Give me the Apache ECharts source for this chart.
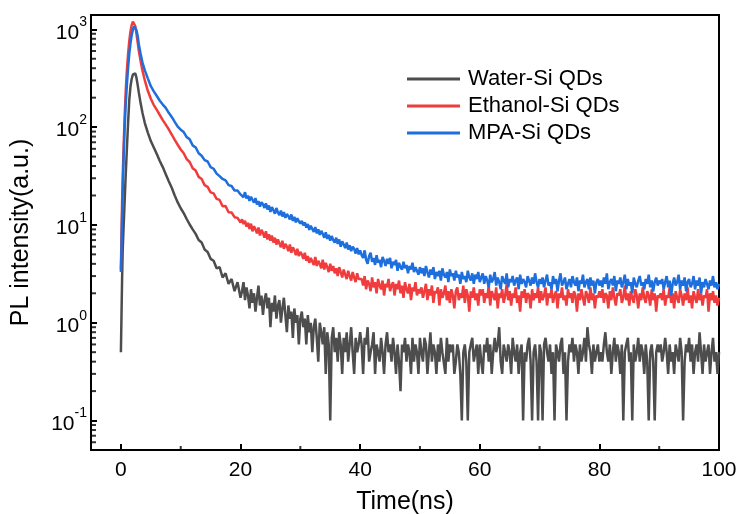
<!DOCTYPE html>
<html>
<head>
<meta charset="utf-8">
<script src="https://cdn.jsdelivr.net/npm/echarts@6/dist/echarts.min.js"></script>
<style>
html,body{margin:0;padding:0;background:#fff;}
#chart{width:741px;height:514px;}
</style>
</head>
<body>
<div id="chart"></div>
<script>
// ---- data ----
var seriesNames = ['Water-Si QDs', 'Ethanol-Si QDs', 'MPA-Si QDs'];

var times = [0,0.1,0.2,0.3,0.4,0.6,0.8,1,1.2,1.4,1.6,1.8,2,2.2,2.4,2.6,2.8,3,3.3,3.6,4,4.5,5,
5.5,6,6.5,7,7.5,8,8.5,9,9.5,10,
10.5,11,11.5,12,12.5,13,13.5,14,14.5,15,15.5,16,16.5,17,17.5,18,18.5,19,19.5,20,
20.25,20.5,20.75,21,21.25,21.5,21.75,22,22.25,22.5,22.75,23,23.25,23.5,23.75,24,24.25,24.5,24.75,25,
25.25,25.5,25.75,26,26.25,26.5,26.75,27,27.25,27.5,27.75,28,28.25,28.5,28.75,29,29.25,29.5,29.75,30,
30.25,30.5,30.75,31,31.25,31.5,31.75,32,32.25,32.5,32.75,33,33.25,33.5,33.75,34,34.25,34.5,34.75,35,
35.25,35.5,35.75,36,36.25,36.5,36.75,37,37.25,37.5,37.75,38,38.25,38.5,38.75,39,39.25,39.5,39.75,40,
40.25,40.5,40.75,41,41.25,41.5,41.75,42,42.25,42.5,42.75,43,43.25,43.5,43.75,44,44.25,44.5,44.75,45,
45.25,45.5,45.75,46,46.25,46.5,46.75,47,47.25,47.5,47.75,48,48.25,48.5,48.75,49,49.25,49.5,49.75,50,
50.25,50.5,50.75,51,51.25,51.5,51.75,52,52.25,52.5,52.75,53,53.25,53.5,53.75,54,54.25,54.5,54.75,55,
55.25,55.5,55.75,56,56.25,56.5,56.75,57,57.25,57.5,57.75,58,58.25,58.5,58.75,59,59.25,59.5,59.75,60,
60.25,60.5,60.75,61,61.25,61.5,61.75,62,62.25,62.5,62.75,63,63.25,63.5,63.75,64,64.25,64.5,64.75,65,
65.25,65.5,65.75,66,66.25,66.5,66.75,67,67.25,67.5,67.75,68,68.25,68.5,68.75,69,69.25,69.5,69.75,70,
70.25,70.5,70.75,71,71.25,71.5,71.75,72,72.25,72.5,72.75,73,73.25,73.5,73.75,74,74.25,74.5,74.75,75,
75.25,75.5,75.75,76,76.25,76.5,76.75,77,77.25,77.5,77.75,78,78.25,78.5,78.75,79,79.25,79.5,79.75,80,
80.25,80.5,80.75,81,81.25,81.5,81.75,82,82.25,82.5,82.75,83,83.25,83.5,83.75,84,84.25,84.5,84.75,85,
85.25,85.5,85.75,86,86.25,86.5,86.75,87,87.25,87.5,87.75,88,88.25,88.5,88.75,89,89.25,89.5,89.75,90,
90.25,90.5,90.75,91,91.25,91.5,91.75,92,92.25,92.5,92.75,93,93.25,93.5,93.75,94,94.25,94.5,94.75,95,
95.25,95.5,95.75,96,96.25,96.5,96.75,97,97.25,97.5,97.75,98,98.25,98.5,98.75,99,99.25,99.5,99.75,100];

var water = [0.5,1.2,2.8,5.5,8,16,32,60,110,190,260,310,345,360,355,320,270,225,175,140,110,88,72,
62,53,45,39,33,28,24,20,17,14.8,
13.2,11.5,10.1,9.0,8.1,7.0,6.6,5.6,5.3,4.5,4.3,3.6,3.7,2.9,3.2,2.5,2.8,2.1,2.6,1.8,
2.1,2.6,1.7,2.3,1.9,1.4,2.2,1.6,2.0,1.3,1.8,2.4,1.5,1.9,1.2,1.7,2.0,1.4,1.8,0.9,
1.6,1.3,1.9,1.1,1.5,1.7,1.0,1.4,1.8,1.2,0.8,1.5,1.1,1.3,0.7,1.4,1.0,1.2,0.6,1.1,
1.3,0.9,1.1,0.6,1.2,0.8,1.0,0.5,0.9,1.1,0.7,0.4,1.0,0.8,0.6,0.9,0.3,0.8,0.6,0.1,
0.7,0.9,0.5,0.7,0.4,0.8,0.6,0.3,0.7,0.5,0.8,0.4,0.6,0.9,0.5,0.3,0.7,0.5,0.6,0.8,
0.6,0.3,0.7,0.6,0.9,0.4,0.5,0.6,0.8,0.3,0.6,0.5,0.4,0.7,0.5,0.3,0.6,0.8,0.5,0.6,
0.4,0.7,0.5,0.3,0.6,0.4,0.2,0.6,0.5,0.7,0.4,0.6,0.5,0.3,0.7,0.4,0.6,0.5,0.3,0.7,
0.5,0.4,0.7,0.6,0.3,0.5,0.8,0.4,0.6,0.5,0.3,0.6,0.4,0.7,0.5,0.5,0.3,0.7,0.4,0.6,
0.5,0.6,0.3,0.4,0.6,0.5,0.3,0.1,0.5,0.6,0.4,0.1,0.5,0.6,0.7,0.4,0.5,0.6,0.3,0.6,
0.4,0.3,0.6,0.5,0.7,0.4,0.6,0.3,0.5,0.7,0.5,0.6,0.9,0.4,0.3,0.6,0.5,0.4,0.6,0.5,
0.3,0.7,0.5,0.4,0.6,0.3,0.5,0.6,0.1,0.5,0.4,0.6,0.7,0.4,0.1,0.5,0.6,0.4,0.1,0.6,
0.5,0.1,0.6,0.7,0.5,0.4,0.6,0.3,0.5,0.1,0.6,0.5,0.4,0.6,0.7,0.3,0.5,0.1,0.4,0.6,
0.5,0.7,0.4,0.6,0.5,0.3,0.6,0.4,0.5,0.7,0.4,0.9,0.6,0.5,0.3,0.6,0.4,0.5,0.6,0.4,
0.5,0.4,0.6,0.8,0.5,0.4,0.6,0.3,0.5,0.7,0.4,0.6,0.5,0.3,0.6,0.1,0.5,0.6,0.7,0.4,
0.5,0.1,0.6,0.4,0.5,0.7,0.4,0.6,0.5,0.3,0.6,0.4,0.1,0.5,0.6,0.4,0.1,0.5,0.6,0.5,
0.6,0.4,0.5,0.7,0.5,0.3,0.6,0.4,0.5,0.3,0.6,0.5,0.4,0.7,0.5,0.1,0.4,0.6,0.5,0.7,
0.4,0.6,0.3,0.5,0.6,0.4,0.8,0.5,0.3,0.6,0.4,0.5,0.6,0.3,0.5,0.7,0.4,0.5,0.3,0.5];

var ethanol = [3.5,8,17,30,50,115,230,380,560,760,950,1100,1200,1190,1080,900,740,600,470,380,300,235,195,
168,150,133,118,106,95,84,74,66,59,
54,47,44,38,36,31,29.5,25.5,24.5,21.5,21,18.5,18,15.5,15.6,13.5,13.4,12,11.8,10.6,
11.4,10.2,11.0,9.6,10.5,9.1,10.3,8.6,9.7,9.0,8.2,9.4,7.8,8.9,8.3,7.4,8.6,7.1,8.0,6.9,
7.8,6.6,7.4,6.3,7.1,6.8,5.9,6.9,5.7,6.4,6.0,5.4,6.3,5.2,5.9,5.5,4.9,5.7,4.8,5.3,
5.0,4.5,5.2,4.3,4.8,4.1,4.6,4.4,3.9,4.7,3.8,4.3,4.0,3.6,4.4,3.5,4.1,3.7,3.3,4.0,
3.4,3.8,3.2,3.6,3.0,3.7,3.3,2.9,3.5,3.1,2.8,3.4,3.0,2.7,3.3,2.9,2.6,3.2,2.8,2.7,
2.8,2.4,3.0,2.2,2.7,2.5,2.1,2.9,2.3,2.6,2.0,2.8,2.4,2.2,2.7,1.9,2.5,2.3,2.8,2.1,
2.4,2.6,1.9,2.5,2.2,2.7,2.0,2.4,1.8,2.6,2.2,2.0,2.5,1.7,2.3,2.1,2.6,1.9,2.2,2.0,
2.3,1.8,2.1,2.5,1.7,2.2,1.9,2.4,1.6,2.1,2.0,2.3,1.5,2.2,1.8,2.0,2.4,1.7,2.1,1.6,
2.2,1.9,1.4,2.1,2.3,1.7,2.0,1.8,2.4,1.6,2.2,1.9,1.3,2.1,1.8,2.3,1.7,2.0,1.5,2.2,
1.9,2.2,1.6,2.0,1.8,2.4,1.5,2.1,1.9,1.7,2.3,1.4,2.0,1.8,2.2,1.6,1.9,2.5,1.7,2.1,
1.5,2.0,1.8,2.3,1.6,1.9,1.3,2.1,1.8,2.2,1.6,2.0,1.9,1.4,2.2,1.7,2.0,1.8,2.3,1.6,
2.1,1.7,1.9,2.3,1.5,2.0,1.8,2.2,1.6,1.9,2.1,1.4,2.0,1.8,2.3,1.7,1.9,1.5,2.2,1.8,
2.0,1.6,2.1,1.9,1.3,2.0,1.7,2.2,1.8,1.5,2.1,1.9,1.6,2.3,1.7,2.0,1.4,1.9,1.8,2.1,
1.8,2.2,1.6,2.0,1.9,1.4,2.1,1.7,2.3,1.8,1.5,2.0,1.9,2.2,1.6,1.8,2.4,1.7,2.0,1.5,
2.1,1.8,1.6,2.2,1.9,1.4,2.0,1.7,2.3,1.8,1.6,2.1,1.9,1.5,2.2,1.7,2.0,1.3,1.9,1.8,
2.0,1.7,2.2,1.5,1.9,1.8,2.3,1.6,2.0,1.4,2.1,1.8,1.6,2.2,1.9,1.5,2.0,1.7,2.3,1.6,
1.9,1.4,2.1,1.8,1.6,2.2,1.7,2.0,1.5,1.9,1.8,2.2,1.3,2.0,1.7,2.1,1.6,1.9,1.5,1.8];

var mpa = [3.3,6,12,22,38,90,170,270,400,560,720,870,990,1070,1060,980,860,700,560,460,380,315,262,
232,208,186,170,157,140,127,113,101,94,
89,79,75,65,62,54,51,46,44.5,39,37.5,33.5,31.5,29.5,28.5,25.5,25,22.5,22.5,20.5,
20.8,19.2,21.6,18.7,19.9,17.6,19.4,18.1,16.9,18.8,16.2,17.5,15.4,17.1,16.3,14.9,16.6,14.4,15.8,13.6,
15.2,14.1,13.0,14.9,13.4,12.6,14.0,12.2,13.5,11.8,12.9,12.3,11.4,12.8,11.0,12.1,10.6,11.7,10.9,10.3,
11.0,9.9,10.6,9.4,10.2,8.9,9.8,9.1,8.5,9.5,8.2,9.0,7.9,8.7,8.1,7.4,8.4,7.2,7.9,6.9,
7.7,7.0,6.6,7.4,6.4,7.1,6.0,6.8,6.3,5.8,6.6,5.6,6.2,5.4,6.0,5.7,5.1,5.8,5.0,5.5,
4.9,4.6,5.5,4.4,4.0,4.8,5.2,4.2,4.6,3.9,4.9,4.1,4.4,3.7,4.7,4.3,3.8,4.5,4.0,4.6,
3.6,4.2,3.9,4.4,3.4,4.1,3.7,3.5,4.2,3.6,3.9,3.2,3.8,3.5,4.1,3.3,3.7,3.4,3.1,3.7,
3.2,3.6,3.0,3.8,3.3,2.9,3.5,3.1,3.7,2.8,3.3,3.0,3.4,2.7,3.6,3.1,2.9,3.3,2.6,3.5,
3.0,3.2,2.7,3.4,2.9,3.1,2.5,3.3,2.8,3.0,2.6,3.4,2.9,2.7,3.2,2.5,3.1,2.8,3.3,2.6,
2.9,3.2,2.5,3.0,2.7,2.3,3.1,2.6,2.8,3.3,2.4,2.9,2.6,2.2,3.0,2.7,2.5,3.2,2.3,2.8,
2.6,3.0,2.4,2.7,2.9,2.2,3.1,2.5,2.8,2.6,2.3,3.0,2.7,2.4,2.9,2.5,3.2,2.6,2.3,2.8,
2.5,2.9,2.3,2.7,3.1,2.4,2.6,2.2,3.0,2.5,2.8,2.1,2.7,3.2,2.4,2.6,2.9,2.2,2.5,2.8,
2.3,3.0,2.6,2.4,2.9,2.1,2.7,2.5,3.1,2.3,2.6,2.8,2.2,2.9,2.4,2.7,2.0,2.6,2.8,2.4,
2.7,2.3,2.9,2.5,3.2,2.2,2.6,2.8,2.4,3.0,2.1,2.7,2.5,2.9,2.3,2.6,3.1,2.2,2.8,2.4,
2.6,2.0,2.9,2.5,2.3,2.7,3.0,2.4,2.6,2.2,2.8,2.5,3.1,2.3,2.7,2.1,2.6,2.9,2.4,2.7,
2.5,2.8,2.2,2.6,3.0,2.3,2.7,1.9,2.5,2.9,2.4,2.6,3.1,2.2,2.7,2.4,2.9,2.1,2.6,2.8,
2.3,2.5,3.0,2.2,2.7,2.4,2.9,2.0,2.6,2.3,2.8,2.5,2.2,2.7,2.4,3.0,2.3,2.6,2.2,2.5];

var xMajorTicks = [0, 20, 40, 60, 80, 100];
var xMinorTicks = [10, 30, 50, 70, 90];
var yMinorTicks = [0.06,0.07,0.08,0.09,0.2,0.3,0.4,0.5,0.6,0.7,0.8,0.9,2,3,4,5,6,7,8,9,
20,30,40,50,60,70,80,90,200,300,400,500,600,700,800,900];

var X_MIN = -5, X_MAX = 100, Y_MIN = 0.05, Y_MAX = 1400;
var colors = ['#4d4d4d', '#f03c3c', '#1e6fde'];
var FONT = 'Arial, "Liberation Sans", sans-serif';

function pairs(xs, ys) { return xs.map(function (x, i) { return [x, ys[i]]; }); }

var chart = echarts.init(document.getElementById('chart'), null, {renderer: 'canvas'});

var option = {
  animation: false,
  backgroundColor: '#fff',
  grid: {left: 91, right: 22, top: 15, bottom: 64, containLabel: false, outerBoundsMode: 'none',
    show: true, borderColor: '#000', borderWidth: 2, backgroundColor: 'transparent'},
  legend: {
    orient: 'vertical', left: 407, top: 68, padding: 0,
    itemWidth: 53, itemHeight: 3, itemGap: 5, icon: 'rect',
    textStyle: {fontSize: 22, lineHeight: 21, color: '#000', fontFamily: FONT, padding: [0, 0, 0, 3]},
    data: seriesNames
  },
  xAxis: {
    type: 'value', min: X_MIN, max: X_MAX, minInterval: 20, maxInterval: 20, splitNumber: 5,
    name: 'Time(ns)', nameLocation: 'middle', nameGap: 40,
    nameTextStyle: {fontSize: 25, color: '#000', fontFamily: FONT},
    axisLine: {show: true, onZero: false, lineStyle: {color: '#000', width: 2}},
    axisTick: {show: true, inside: true, length: 6, lineStyle: {color: '#000', width: 2}},
    axisLabel: {fontSize: 21, color: '#000', fontFamily: FONT, margin: 10,
      formatter: function (v) { return xMajorTicks.indexOf(Math.round(v * 1000) / 1000) >= 0 ? String(v) : ''; }},
    splitLine: {show: false}
  },
  yAxis: {
    type: 'log', logBase: 10, min: Y_MIN, max: Y_MAX,
    name: 'PL intensity(a.u.)', nameLocation: 'middle', nameGap: 57,
    nameTextStyle: {fontSize: 25, color: '#000', fontFamily: FONT},
    axisLine: {show: true, onZero: false, lineStyle: {color: '#000', width: 2}},
    axisTick: {show: true, inside: true, length: 6, lineStyle: {color: '#000', width: 2}},
    axisLabel: {
      color: '#000', margin: 4,
      formatter: function (v) {
        var l = Math.log10(v), e = Math.round(l);
        if (Math.abs(l - e) > 1e-6) return '';
        return '{b|10}{s|' + e + '}';
      },
      rich: {
        b: {fontSize: 21, fontFamily: FONT, color: '#000', verticalAlign: 'bottom', lineHeight: 28},
        s: {fontSize: 14, fontFamily: FONT, color: '#000', verticalAlign: 'top', lineHeight: 14}
      }
    },
    splitLine: {show: false}
  },
  series: [
    {name: seriesNames[0], type: 'line', color: colors[0], data: pairs(times, water), showSymbol: false, symbol: 'none',
      lineStyle: {width: 2.5, color: colors[0]}, z: 2},
    {name: seriesNames[1], type: 'line', color: colors[1], data: pairs(times, ethanol), showSymbol: false, symbol: 'none',
      lineStyle: {width: 2.5, color: colors[1]}, z: 3},
    {name: seriesNames[2], type: 'line', color: colors[2], data: pairs(times, mpa), showSymbol: false, symbol: 'none',
      lineStyle: {width: 2.5, color: colors[2]}, z: 4},
    {type: 'scatter', silent: true, z: 10, clip: false,
      data: xMinorTicks.map(function (v) { return [v, Y_MIN]; }),
      symbol: 'rect', symbolSize: [2, 4], symbolOffset: [0, -2],
      itemStyle: {color: '#000'}},
    {type: 'scatter', silent: true, z: 10, clip: false,
      data: yMinorTicks.map(function (v) { return [X_MIN, v]; }),
      symbol: 'rect', symbolSize: [5, 2], symbolOffset: [2.5, 0],
      itemStyle: {color: '#000'}}
  ]
};
chart.setOption(option);
</script>
</body>
</html>
